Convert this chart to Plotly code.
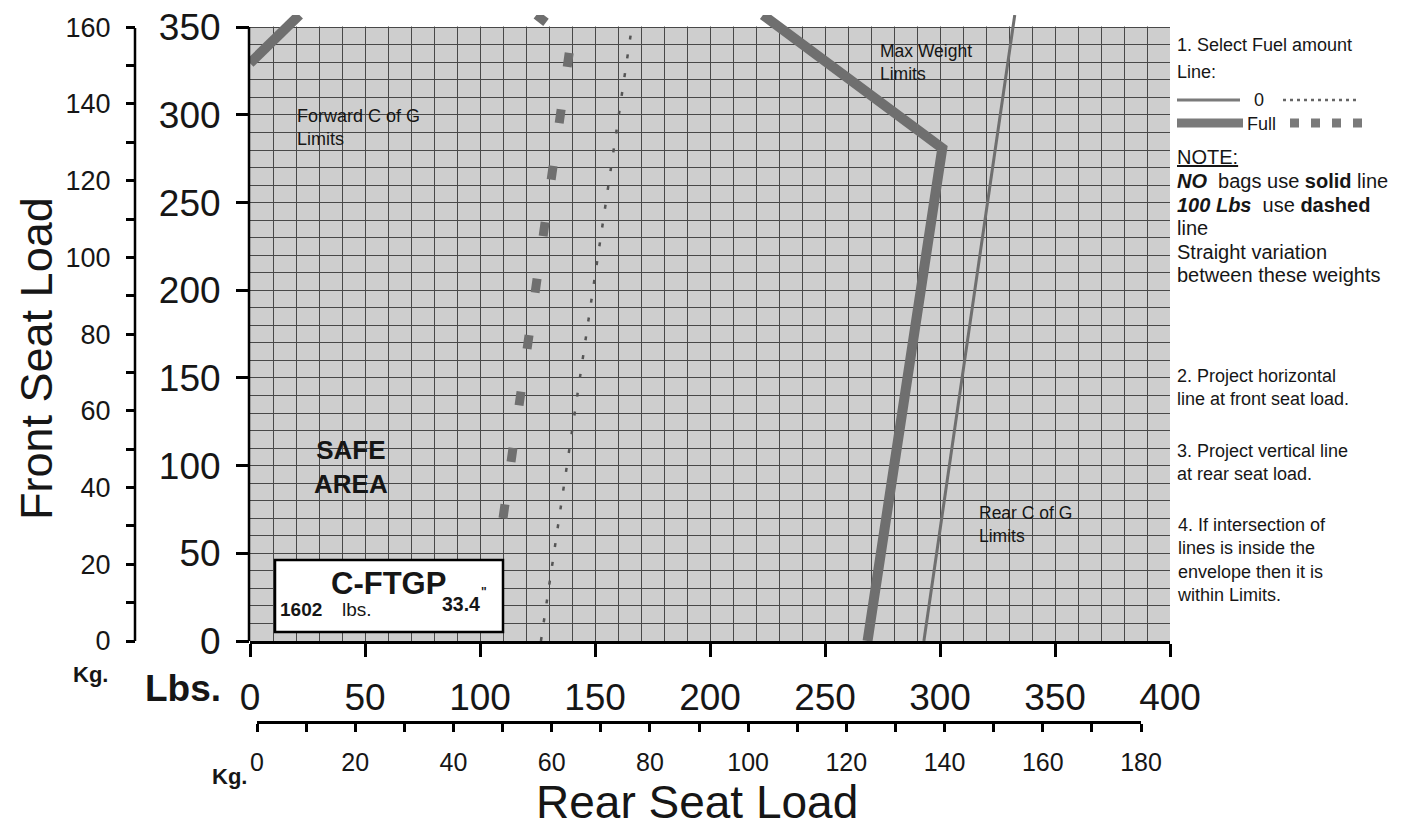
import plotly.graph_objects as go

W, H = 1404, 827
PAGE_OFFSET = 8  # the page body margin shifts the figure

# axis ticks
rear_lbs_ticks = list(range(0, 401, 50))
front_lbs_ticks = list(range(0, 351, 50))
front_kg_ticks = list(range(0, 161, 10))
rear_kg_ticks = list(range(0, 181, 10))

# envelope lines (rear seat lbs, front seat lbs)
full_nobags_rear = [268.5, 301.0, 223.0]
full_nobags_front = [0, 281, 357]

zero_nobags_rear = [293.0, 332.5]
zero_nobags_front = [0, 357]

zero_bags_rear = [126.5, 166.0]
zero_bags_front = [0, 350]

full_bags_rear = [110.0, 139.5, 124.5]
full_bags_front = [70, 342, 357]

fwd_cg_rear = [0, 21.5]
fwd_cg_front = [329.5, 357]

FONT = "Liberation Sans, Arial, sans-serif"
INK = "#161616"
LINE_GREY = "#6f6f6f"


def fx(px):
    return (px - PAGE_OFFSET) / W


def fy(py):
    return 1 - (py - PAGE_OFFSET) / H


fig = go.Figure()

fig.add_trace(go.Scatter(x=full_nobags_rear, y=full_nobags_front, mode="lines",
                         line=dict(color=LINE_GREY, width=10), hoverinfo="skip"))
fig.add_trace(go.Scatter(x=fwd_cg_rear, y=fwd_cg_front, mode="lines",
                         line=dict(color=LINE_GREY, width=10), hoverinfo="skip"))
fig.add_trace(go.Scatter(x=zero_nobags_rear, y=zero_nobags_front, mode="lines",
                         line=dict(color=LINE_GREY, width=3), hoverinfo="skip"))
fig.add_trace(go.Scatter(x=zero_bags_rear, y=zero_bags_front, mode="lines",
                         line=dict(color="#555555", width=2.5, dash="4px,15px"),
                         hoverinfo="skip"))
fig.add_trace(go.Scatter(x=full_bags_rear, y=full_bags_front, mode="lines",
                         line=dict(color=LINE_GREY, width=9, dash="14px,43px"),
                         hoverinfo="skip"))

# helpers so the kg axes get drawn
fig.add_trace(go.Scatter(x=[None], y=[None], xaxis="x", yaxis="y2", hoverinfo="skip"))
fig.add_trace(go.Scatter(x=[None], y=[None], xaxis="x2", yaxis="y3", hoverinfo="skip"))

grid = dict(showgrid=True, gridcolor="#484848", gridwidth=1.2)

fig.update_layout(
    width=W, height=H, autosize=False,
    margin=dict(l=0, r=0, t=0, b=0, pad=0, autoexpand=False),
    paper_bgcolor="white",
    plot_bgcolor="rgba(0,0,0,0)",
    showlegend=False,
    font=dict(family=FONT, color=INK),
    xaxis=dict(
        domain=[fx(250), fx(1170)], range=[0, 400], anchor="y",
        tickmode="array", tickvals=rear_lbs_ticks,
        ticks="outside", ticklen=13, tickwidth=2.5, tickcolor="black",
        tickfont=dict(size=37, color=INK), ticklabelstandoff=9,
        ticklabeloverflow="allow",
        showline=True, linewidth=2.5, linecolor="black",
        zeroline=False, automargin=False, **grid,
        minor=dict(dtick=10, showgrid=True, gridcolor="#484848", gridwidth=1.2, ticks=""),
    ),
    yaxis=dict(
        domain=[fy(641), fy(15)], range=[0, 357], anchor="x",
        tickmode="array", tickvals=front_lbs_ticks,
        ticks="outside", ticklen=13, tickwidth=2.5, tickcolor="black",
        tickfont=dict(size=37, color=INK), ticklabelstandoff=8,
        ticklabeloverflow="allow",
        showline=False, zeroline=False, automargin=False, **grid,
        minor=dict(dtick=10, showgrid=True, gridcolor="#484848", gridwidth=1.2, ticks=""),
    ),
    yaxis2=dict(
        overlaying="y", anchor="free", position=fx(135), side="left",
        range=[0, 357 * 160 / 350], type="linear",
        tickmode="array", tickvals=front_kg_ticks,
        ticktext=[str(v) if v % 20 == 0 else "" for v in front_kg_ticks],
        ticks="outside", ticklen=9, tickwidth=2.5, tickcolor="black",
        tickfont=dict(size=27, color=INK), ticklabelstandoff=10,
        ticklabeloverflow="allow",
        showline=False, showgrid=False, zeroline=False, automargin=False,
    ),
    xaxis2=dict(
        domain=[fx(257), fx(1141)], range=[0, 180], type="linear",
        anchor="free", position=fy(722), side="bottom",
        tickmode="array", tickvals=rear_kg_ticks,
        ticktext=[str(v) if v % 20 == 0 else "" for v in rear_kg_ticks],
        ticks="outside", ticklen=8, tickwidth=2.5, tickcolor="black",
        tickfont=dict(size=25, color=INK), ticklabelstandoff=9,
        ticklabeloverflow="allow",
        showline=True, linewidth=2.5, linecolor="black",
        showgrid=False, zeroline=False, automargin=False,
    ),
    yaxis3=dict(domain=[0, 0.004], range=[0, 1], visible=False, anchor="x2"),
)

shapes = [
    # grey chart paper
    dict(type="rect", xref="x", yref="y", x0=0, x1=400, y0=0, y1=350,
         fillcolor="#cecece", line=dict(width=0), layer="below"),
    # white strip above 350 lbs (hides grid, lines still show)
    dict(type="rect", xref="x", yref="y", x0=0, x1=400, y0=350.4, y1=357,
         fillcolor="white", line=dict(width=0), layer="between"),
    # lbs axis line
    dict(type="line", xref="paper", yref="paper", x0=fx(249), x1=fx(249),
         y0=fy(641), y1=fy(27), line=dict(color="black", width=2.5)),
    # kg axis line
    dict(type="line", xref="paper", yref="paper", x0=fx(135), x1=fx(135),
         y0=fy(641), y1=fy(28), line=dict(color="black", width=2.5)),
    # aircraft box
    dict(type="rect", xref="paper", yref="paper", x0=fx(275), x1=fx(503),
         y0=fy(632), y1=fy(560), fillcolor="white",
         line=dict(color="black", width=2.5), layer="above"),
    # fuel legend samples
    dict(type="line", xref="paper", yref="paper", x0=fx(1177), x1=fx(1240),
         y0=fy(100), y1=fy(100), line=dict(color="#7a7a7a", width=3)),
    dict(type="line", xref="paper", yref="paper", x0=fx(1283), x1=fx(1360),
         y0=fy(100), y1=fy(100), line=dict(color="#666666", width=2.5, dash="3px,4px")),
    dict(type="line", xref="paper", yref="paper", x0=fx(1177), x1=fx(1243),
         y0=fy(123), y1=fy(123), line=dict(color="#7a7a7a", width=9)),
    dict(type="line", xref="paper", yref="paper", x0=fx(1290), x1=fx(1362),
         y0=fy(123), y1=fy(123), line=dict(color="#7a7a7a", width=9, dash="9px,12px")),
]
fig.update_layout(shapes=shapes)


def note(text, px, py, size=18, xanchor="left", align="left", angle=0):
    fig.add_annotation(text=text, x=fx(px), y=fy(py), xref="paper", yref="paper",
                       xanchor=xanchor, yanchor="middle", align=align,
                       showarrow=False, textangle=angle,
                       font=dict(family=FONT, size=size, color=INK))


# axis titles
note("Front Seat Load", 36, 359, size=45, xanchor="center", angle=-90)
note("Rear Seat Load", 697, 802, size=46, xanchor="center")
note("<b>Kg.</b>", 90, 674, size=22, xanchor="center")
note("<b>Lbs.</b>", 183, 688, size=37, xanchor="center")
note("<b>Kg.</b>", 229, 776, size=22, xanchor="center")

# labels on the chart
note("Forward C of G<br>Limits", 295, 127, size=18)
note("Max Weight<br>Limits", 878, 62, size=17.5)
note("Rear C of G<br>Limits", 977, 524, size=17.5)
note("<b>SAFE</b><br><b>AREA</b>", 351, 467, size=26, xanchor="center", align="center")

# aircraft box
note("<b>C-FTGP</b>", 389, 583, size=31, xanchor="center")
note("<b>1602</b>", 278, 609, size=19)
note("lbs.", 340, 609, size=19)
note("<b>33.4</b>", 440, 604, size=19.5)
note("<b>\"</b>", 479, 592, size=12)

# instructions
note("1. Select Fuel amount", 1175, 45)
note("Line:", 1175, 72)
note("0", 1252, 100)
note("Full", 1245, 124)
note("<u>NOTE:</u>", 1175, 157, size=20)
note("<b><i>NO</i></b>  bags use <b>solid</b> line", 1175, 181, size=20)
note("<b><i>100 Lbs</i></b>  use <b>dashed</b>", 1175, 205, size=20)
note("line", 1175, 228, size=20)
note("Straight variation", 1175, 252, size=20)
note("between these weights", 1175, 275, size=20)
note("2. Project horizontal<br>line at front seat load.", 1175, 388, size=18)
note("3. Project vertical line<br>at rear seat load.", 1175, 462, size=18)
note("4. If intersection of<br>lines is inside the<br>envelope then it is<br>within Limits.",
     1175, 560, size=18)

fig.write_html("out.html")
